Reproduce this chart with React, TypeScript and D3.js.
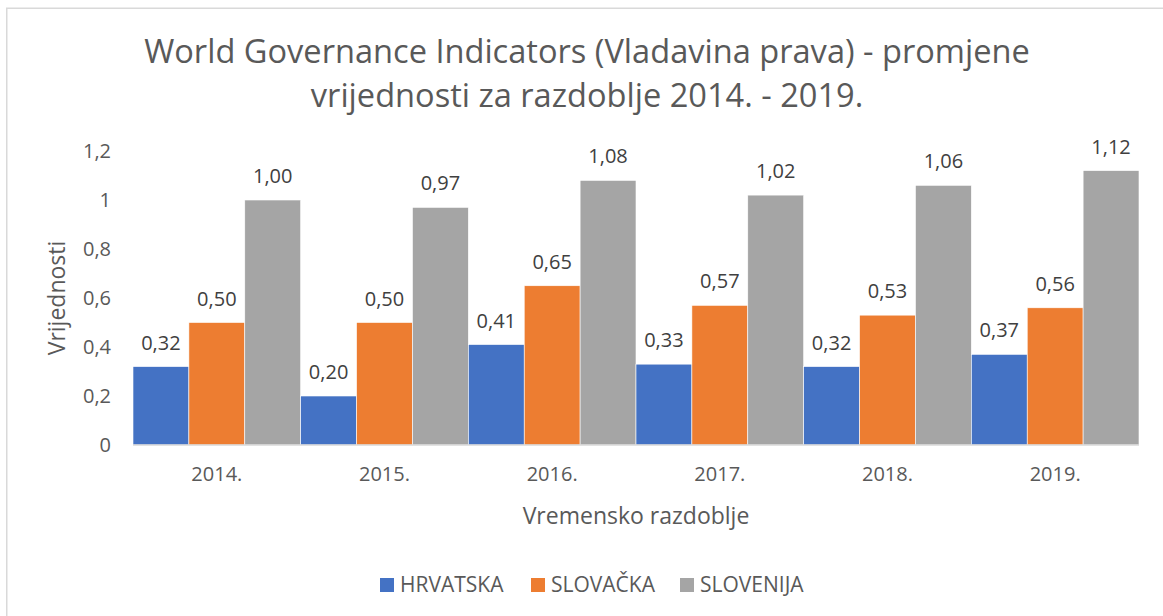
import React, { useEffect, useRef } from "react";
import * as d3 from "d3";

// chart data
const years = ["2014.", "2015.", "2016.", "2017.", "2018.", "2019."];
const hrvatska = [0.32, 0.2, 0.41, 0.33, 0.32, 0.37];
const slovacka = [0.5, 0.5, 0.65, 0.57, 0.53, 0.56];
const slovenija = [1.0, 0.97, 1.08, 1.02, 1.06, 1.12];
const seriesNames = ["HRVATSKA", "SLOVAČKA", "SLOVENIJA"];
const yTicks = [0, 0.2, 0.4, 0.6, 0.8, 1, 1.2];

const COLORS = ["#4472C4", "#ED7D31", "#A5A5A5"];
const TEXT = "#595959";
const FONT = "'Open Sans', 'Noto Sans', sans-serif";

export default function App() {
	const svgRef = useRef<SVGSVGElement | null>(null);

	useEffect(() => {
		if (!svgRef.current) return;
		const width = 1163;
		const height = 616;
		const plot = { left: 133, right: 1139, top: 151, bottom: 445 };

		const svg = d3.select(svgRef.current);
		svg.selectAll("*").remove();
		svg.attr("viewBox", `0 0 ${width} ${height}`);

		// chart frame (runs off right/bottom edge in the reference)
		svg.append("rect")
			.attr("x", 6.75)
			.attr("y", 8.25)
			.attr("width", 1200)
			.attr("height", 700)
			.attr("fill", "#fff")
			.attr("stroke", "#d9d9d9")
			.attr("stroke-width", 1.5);

		const x0 = d3.scaleBand().domain(years).range([plot.left, plot.right]).paddingInner(0).paddingOuter(0);
		const x1 = d3.scaleBand().domain(seriesNames).range([0, x0.bandwidth()]).padding(0);
		const y = d3.scaleLinear().domain([0, 1.2]).range([plot.bottom, plot.top]);

		const fmt = (v: number) => v.toFixed(2).replace(".", ",");
		const tickFmt = (v: number) => String(v).replace(".", ",");

		// title
		const title = svg.append("text")
			.attr("text-anchor", "middle")
			.attr("fill", TEXT)
			.style("font-family", FONT)
			.style("font-size", "32.6px");
		title.append("tspan").attr("x", 587).attr("y", 63).text("World Governance Indicators (Vladavina prava) - promjene");
		title.append("tspan").attr("x", 587).attr("y", 107).text("vrijednosti za razdoblje 2014. - 2019.");

		// y axis tick labels (no axis line, no gridlines)
		svg.append("g")
			.selectAll("text")
			.data(yTicks)
			.join("text")
			.attr("x", 111)
			.attr("y", (d) => y(d))
			.attr("dy", "0.35em")
			.attr("text-anchor", "end")
			.attr("fill", TEXT)
			.style("font-family", FONT)
			.style("font-size", "20px")
			.text((d) => tickFmt(d));

		// bars
		const rows = years.map((yr, i) => ({ yr, vals: [hrvatska[i], slovacka[i], slovenija[i]] }));
		const groups = svg.append("g")
			.selectAll("g")
			.data(rows)
			.join("g")
			.attr("transform", (d) => `translate(${x0(d.yr)},0)`);

		groups.selectAll("rect")
			.data((d) => d.vals.map((v, k) => ({ v, k })))
			.join("rect")
			.attr("x", (d) => x1(seriesNames[d.k])!)
			.attr("width", x1.bandwidth())
			.attr("y", (d) => y(d.v))
			.attr("height", (d) => y(0) - y(d.v))
			.attr("fill", (d) => COLORS[d.k])
			.attr("stroke", "#fff")
			.attr("stroke-width", 0.6);

		groups.selectAll("text")
			.data((d) => d.vals.map((v, k) => ({ v, k })))
			.join("text")
			.attr("x", (d) => x1(seriesNames[d.k])! + x1.bandwidth() / 2)
			.attr("y", (d) => y(d.v) - 17)
			.attr("text-anchor", "middle")
			.attr("fill", "#404040")
			.style("font-family", FONT)
			.style("font-size", "20px")
			.text((d) => fmt(d.v));

		// baseline
		svg.append("line")
			.attr("x1", plot.left)
			.attr("x2", plot.right)
			.attr("y1", y(0))
			.attr("y2", y(0))
			.attr("stroke", "#d9d9d9")
			.attr("stroke-width", 1.5);

		// x tick labels
		svg.append("g")
			.selectAll("text")
			.data(years)
			.join("text")
			.attr("x", (d) => x0(d)! + x0.bandwidth() / 2)
			.attr("y", 481)
			.attr("text-anchor", "middle")
			.attr("fill", TEXT)
			.style("font-family", FONT)
			.style("font-size", "20px")
			.text((d) => d);

		// axis titles
		svg.append("text")
			.attr("x", (plot.left + plot.right) / 2)
			.attr("y", 524)
			.attr("text-anchor", "middle")
			.attr("fill", TEXT)
			.style("font-family", FONT)
			.style("font-size", "23px")
			.text("Vremensko razdoblje");

		svg.append("text")
			.attr("transform", `translate(65,${(plot.top + plot.bottom) / 2}) rotate(-90)`)
			.attr("text-anchor", "middle")
			.attr("fill", TEXT)
			.style("font-family", FONT)
			.style("font-size", "23px")
			.text("Vrijednosti");

		// legend
		const legendX = [380, 531, 680];
		const legend = svg.append("g")
			.selectAll("g")
			.data(seriesNames)
			.join("g")
			.attr("transform", (d, i) => `translate(${legendX[i]},585)`);
		legend.append("rect")
			.attr("x", 0)
			.attr("y", -7)
			.attr("width", 14)
			.attr("height", 14)
			.attr("fill", (d, i) => COLORS[i]);
		legend.append("text")
			.attr("x", 20)
			.attr("y", 0)
			.attr("dy", "0.35em")
			.attr("fill", TEXT)
			.style("font-family", FONT)
			.style("font-size", "21px")
			.text((d) => d);
	}, []);

	return (
		<svg
			ref={svgRef}
			width={1163}
			height={616}
			style={{ position: "fixed", left: 0, top: 0, display: "block" }}
		/>
	);
}
